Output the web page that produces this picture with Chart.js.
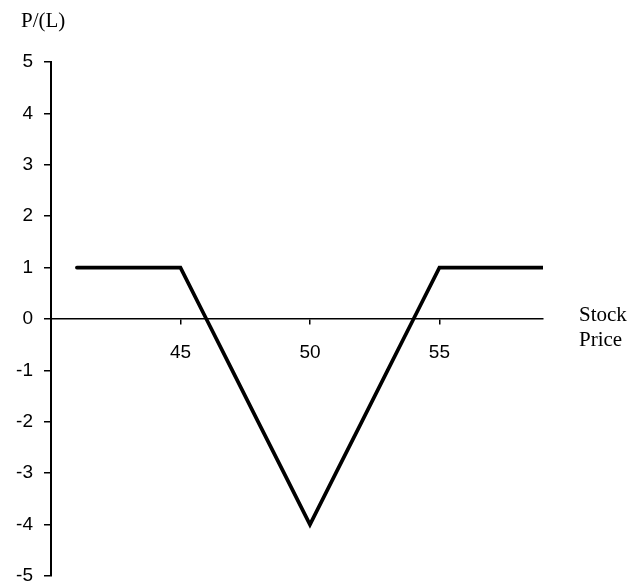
<!DOCTYPE html>
<html>
<head>
<meta charset="utf-8">
<script src="https://cdn.jsdelivr.net/npm/chart.js@4/dist/chart.umd.min.js"></script>
<style>
  html, body { margin: 0; padding: 0; background: #fff; }
  #wrap { width: 639px; height: 585px; position: relative; }
</style>
</head>
<body>
<div id="wrap"><canvas id="payoffChart"></canvas></div>
<script>
// ================= DATA =================
const stockPrices = [41, 42, 43, 44, 45, 46, 47, 48, 49, 50, 51, 52, 53, 54, 55, 56, 57, 58, 59];
const profitLoss  = [1, 1, 1, 1, 1, 0, -1, -2, -3, -4, -3, -2, -1, 0, 1, 1, 1, 1, 1];
const xTickValues = [45, 50, 55];
const yTickValues = [-5, -4, -3, -2, -1, 0, 1, 2, 3, 4, 5];

const points = stockPrices.map((x, i) => ({ x, y: profitLoss[i] }));

// axis captions drawn as canvas text
const captions = {
  id: "captions",
  afterDraw(chart) {
    const ctx = chart.ctx;
    ctx.save();
    ctx.fillStyle = "#000";
    ctx.font = "21px 'Liberation Serif', 'Times New Roman', serif";
    ctx.textAlign = "left";
    ctx.textBaseline = "alphabetic";
    ctx.fillText("P/(L)", 21, 27);
    ctx.fillText("Stock", 579, 321);
    ctx.fillText("Price", 579, 346);
    ctx.restore();
  }
};

new Chart(document.getElementById("payoffChart"), {
  type: "scatter",
  data: {
    datasets: [{
      data: points,
      showLine: true,
      borderColor: "#000",
      borderWidth: 3.7,
      borderCapStyle: "round",
      borderJoinStyle: "miter",
      pointRadius: 0,
      pointHoverRadius: 0,
      tension: 0
    }]
  },
  options: {
    responsive: true,
    maintainAspectRatio: false,
    animation: false,
    layout: { padding: { left: 0, top: 62, right: 96, bottom: 9 } },
    plugins: {
      legend: { display: false },
      tooltip: { enabled: false }
    },
    scales: {
      x: {
        type: "linear",
        position: { y: 0 },
        min: 40,
        max: 59,
        afterBuildTicks: axis => { axis.ticks = xTickValues.map(v => ({ value: v })); },
        grid: { drawOnChartArea: false, drawTicks: true, tickLength: 5, color: "#000", lineWidth: 1.5 },
        border: { color: "#000", width: 1.5 },
        ticks: {
          color: "#000",
          padding: 17,
          maxRotation: 0,
          font: { family: "'Liberation Sans', Arial, sans-serif", size: 19 }
        }
      },
      y: {
        min: -5,
        max: 5,
        afterBuildTicks: axis => { axis.ticks = yTickValues.map(v => ({ value: v })); },
        afterFit: scale => {
          scale.width = 51;
          scale.paddingTop = 0;
          scale.paddingBottom = 0;
        },
        grid: { drawOnChartArea: false, drawTicks: true, tickLength: 7, color: "#000", lineWidth: 1.5 },
        border: { color: "#000", width: 2 },
        ticks: {
          color: "#000",
          padding: 11,
          font: { family: "'Liberation Sans', Arial, sans-serif", size: 19 }
        }
      }
    }
  },
  plugins: [captions]
});
</script>
</body>
</html>
